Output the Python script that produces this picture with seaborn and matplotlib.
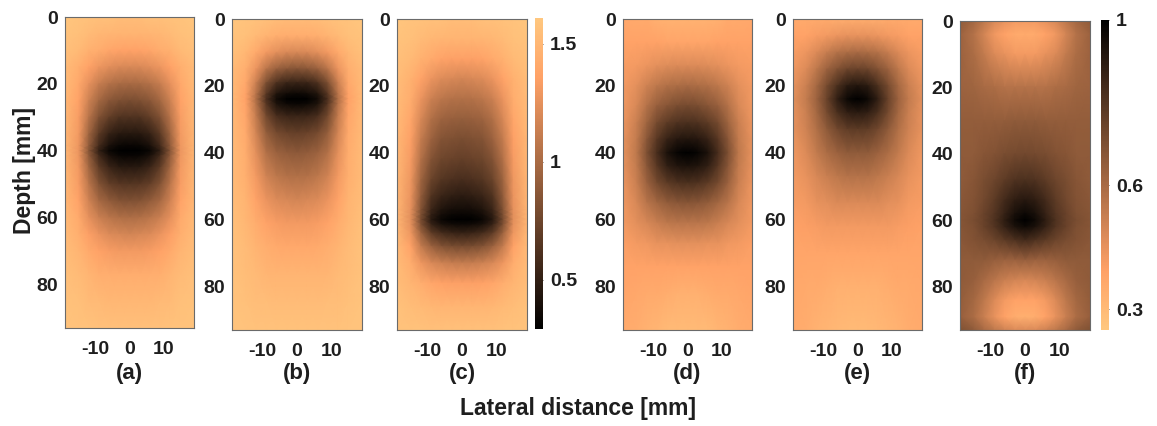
import numpy as np
import matplotlib
matplotlib.use("Agg")
import matplotlib.pyplot as plt
import seaborn as sns

# ---------------- data ----------------
# lateral positions (half-plane, mirrored about 0 mm)
lateral_half = [0, 3, 6, 9, 12, 15, 19]
x_ticks = [-10, 0, 10]
y_ticks = [0, 20, 40, 60, 80]
panel_labels = ["(a)", "(b)", "(c)", "(d)", "(e)", "(f)"]

# panel (a): focus 40 mm, colour scale 0.29 .. 1.61
depth_a = [0, 5, 10, 15, 20, 25, 30, 35, 38.5, 40, 41.5, 45, 50, 55, 60, 65, 70, 77, 85, 93]
vals_a = [
    [1.54, 1.54, 1.56, 1.56, 1.57, 1.58, 1.60],
    [1.48, 1.48, 1.49, 1.50, 1.53, 1.56, 1.58],
    [1.36, 1.37, 1.39, 1.43, 1.46, 1.52, 1.56],
    [1.19, 1.20, 1.23, 1.28, 1.36, 1.45, 1.53],
    [0.99, 1.00, 1.04, 1.12, 1.25, 1.40, 1.52],
    [0.80, 0.82, 0.87, 0.98, 1.15, 1.36, 1.50],
    [0.62, 0.63, 0.70, 0.83, 1.06, 1.33, 1.50],
    [0.44, 0.45, 0.51, 0.67, 0.96, 1.31, 1.49],
    [0.33, 0.34, 0.40, 0.57, 0.90, 1.29, 1.49],
    [0.29, 0.30, 0.34, 0.50, 0.86, 1.28, 1.49],
    [0.33, 0.34, 0.40, 0.57, 0.90, 1.29, 1.49],
    [0.46, 0.47, 0.54, 0.69, 0.98, 1.31, 1.49],
    [0.65, 0.66, 0.71, 0.84, 1.07, 1.33, 1.50],
    [0.83, 0.84, 0.90, 0.99, 1.16, 1.37, 1.50],
    [1.02, 1.03, 1.07, 1.14, 1.25, 1.41, 1.52],
    [1.17, 1.19, 1.21, 1.27, 1.35, 1.45, 1.53],
    [1.31, 1.31, 1.33, 1.36, 1.41, 1.49, 1.54],
    [1.43, 1.43, 1.44, 1.45, 1.49, 1.53, 1.56],
    [1.50, 1.50, 1.50, 1.52, 1.53, 1.56, 1.57],
    [1.56, 1.56, 1.56, 1.56, 1.57, 1.57, 1.58],
]

# panel (b): focus 24 mm
depth_b = [0, 5, 10, 15, 19, 22.5, 24, 25.5, 29, 34, 40, 47, 54, 61, 68, 76, 84, 93]
vals_b = [
    [1.53, 1.53, 1.54, 1.56, 1.57, 1.58, 1.60],
    [1.43, 1.43, 1.45, 1.48, 1.52, 1.56, 1.58],
    [1.19, 1.20, 1.24, 1.31, 1.41, 1.50, 1.56],
    [0.84, 0.86, 0.92, 1.06, 1.27, 1.44, 1.53],
    [0.53, 0.54, 0.62, 0.82, 1.14, 1.40, 1.52],
    [0.34, 0.36, 0.42, 0.66, 1.06, 1.37, 1.52],
    [0.29, 0.30, 0.37, 0.61, 1.03, 1.36, 1.52],
    [0.34, 0.36, 0.42, 0.66, 1.06, 1.37, 1.52],
    [0.53, 0.54, 0.59, 0.77, 1.11, 1.39, 1.52],
    [0.71, 0.73, 0.78, 0.91, 1.17, 1.41, 1.52],
    [0.88, 0.90, 0.94, 1.04, 1.24, 1.43, 1.53],
    [1.03, 1.04, 1.08, 1.16, 1.31, 1.45, 1.53],
    [1.17, 1.19, 1.21, 1.27, 1.37, 1.48, 1.54],
    [1.31, 1.31, 1.33, 1.37, 1.43, 1.50, 1.56],
    [1.40, 1.40, 1.41, 1.44, 1.48, 1.53, 1.57],
    [1.48, 1.48, 1.48, 1.49, 1.52, 1.54, 1.57],
    [1.53, 1.53, 1.53, 1.54, 1.54, 1.56, 1.58],
    [1.57, 1.57, 1.57, 1.57, 1.57, 1.58, 1.58],
]

# panel (c): focus 60 mm
depth_c = [0, 6, 12, 18, 24, 30, 36, 42, 48, 53, 57, 58.5, 60, 61.5, 64, 68, 73, 79, 86, 93]
vals_c = [
    [1.54, 1.54, 1.56, 1.56, 1.57, 1.58, 1.60],
    [1.48, 1.48, 1.49, 1.50, 1.53, 1.56, 1.58],
    [1.35, 1.35, 1.37, 1.41, 1.46, 1.52, 1.56],
    [1.17, 1.19, 1.21, 1.27, 1.37, 1.46, 1.54],
    [1.03, 1.04, 1.07, 1.14, 1.27, 1.43, 1.53],
    [0.91, 0.92, 0.95, 1.03, 1.19, 1.39, 1.52],
    [0.80, 0.82, 0.84, 0.94, 1.11, 1.35, 1.50],
    [0.71, 0.73, 0.75, 0.84, 1.04, 1.32, 1.50],
    [0.59, 0.61, 0.65, 0.74, 0.96, 1.29, 1.49],
    [0.47, 0.49, 0.53, 0.63, 0.90, 1.27, 1.49],
    [0.37, 0.38, 0.42, 0.54, 0.84, 1.25, 1.49],
    [0.33, 0.34, 0.38, 0.50, 0.82, 1.24, 1.49],
    [0.29, 0.30, 0.34, 0.46, 0.79, 1.24, 1.49],
    [0.36, 0.37, 0.41, 0.53, 0.83, 1.25, 1.49],
    [0.51, 0.53, 0.58, 0.69, 0.95, 1.29, 1.50],
    [0.79, 0.80, 0.84, 0.94, 1.11, 1.36, 1.52],
    [1.11, 1.12, 1.15, 1.20, 1.29, 1.43, 1.53],
    [1.35, 1.35, 1.36, 1.39, 1.44, 1.49, 1.54],
    [1.49, 1.49, 1.49, 1.50, 1.52, 1.54, 1.57],
    [1.56, 1.56, 1.56, 1.56, 1.57, 1.57, 1.58],
]

# panel (d): focus 40 mm, colour scale 0.25 .. 1
depth_d = [0, 7, 14, 20, 26, 31, 36, 40, 44, 49, 55, 61, 67, 74, 82, 93]
vals_d = [
    [0.33, 0.33, 0.33, 0.34, 0.36, 0.36, 0.37],
    [0.38, 0.38, 0.38, 0.39, 0.39, 0.39, 0.39],
    [0.48, 0.48, 0.47, 0.46, 0.44, 0.42, 0.41],
    [0.60, 0.59, 0.58, 0.55, 0.51, 0.46, 0.42],
    [0.72, 0.71, 0.68, 0.64, 0.57, 0.49, 0.43],
    [0.82, 0.81, 0.78, 0.72, 0.62, 0.52, 0.44],
    [0.92, 0.91, 0.87, 0.79, 0.67, 0.54, 0.45],
    [1.00, 0.98, 0.93, 0.83, 0.70, 0.55, 0.45],
    [0.93, 0.92, 0.88, 0.79, 0.67, 0.54, 0.45],
    [0.82, 0.81, 0.78, 0.72, 0.63, 0.52, 0.44],
    [0.68, 0.67, 0.65, 0.61, 0.56, 0.49, 0.43],
    [0.56, 0.56, 0.55, 0.52, 0.49, 0.46, 0.42],
    [0.46, 0.46, 0.45, 0.45, 0.43, 0.42, 0.40],
    [0.39, 0.39, 0.39, 0.39, 0.39, 0.39, 0.39],
    [0.34, 0.34, 0.35, 0.36, 0.36, 0.37, 0.38],
    [0.30, 0.30, 0.30, 0.32, 0.33, 0.35, 0.36],
]

# panel (e): focus 24 mm
depth_e = [0, 5, 10, 15, 20, 24, 28, 33, 40, 47, 55, 62, 70, 80, 93]
vals_e = [
    [0.35, 0.35, 0.35, 0.36, 0.36, 0.36, 0.36],
    [0.45, 0.45, 0.44, 0.42, 0.41, 0.39, 0.39],
    [0.60, 0.59, 0.57, 0.53, 0.48, 0.44, 0.41],
    [0.75, 0.74, 0.69, 0.63, 0.55, 0.48, 0.43],
    [0.92, 0.90, 0.82, 0.72, 0.61, 0.52, 0.45],
    [1.00, 0.97, 0.88, 0.75, 0.63, 0.54, 0.46],
    [0.90, 0.88, 0.82, 0.72, 0.61, 0.52, 0.45],
    [0.78, 0.77, 0.73, 0.66, 0.58, 0.51, 0.45],
    [0.66, 0.66, 0.63, 0.59, 0.54, 0.48, 0.43],
    [0.57, 0.57, 0.55, 0.52, 0.49, 0.45, 0.42],
    [0.48, 0.48, 0.48, 0.46, 0.45, 0.42, 0.41],
    [0.42, 0.42, 0.42, 0.42, 0.41, 0.40, 0.39],
    [0.38, 0.38, 0.38, 0.38, 0.38, 0.38, 0.38],
    [0.34, 0.34, 0.34, 0.35, 0.36, 0.36, 0.37],
    [0.30, 0.30, 0.31, 0.32, 0.33, 0.35, 0.36],
]

# panel (f): focus 60 mm
depth_f = [0, 4, 10, 20, 30, 40, 48, 54, 58, 60, 62, 66, 72, 78, 84, 89, 93]
vals_f = [
    [0.42, 0.42, 0.45, 0.49, 0.55, 0.61, 0.66],
    [0.36, 0.36, 0.39, 0.43, 0.50, 0.57, 0.63],
    [0.42, 0.42, 0.45, 0.48, 0.54, 0.59, 0.63],
    [0.57, 0.57, 0.57, 0.59, 0.60, 0.62, 0.63],
    [0.66, 0.66, 0.65, 0.65, 0.65, 0.65, 0.65],
    [0.73, 0.72, 0.71, 0.69, 0.68, 0.66, 0.66],
    [0.82, 0.81, 0.78, 0.74, 0.71, 0.68, 0.66],
    [0.91, 0.89, 0.84, 0.78, 0.73, 0.69, 0.67],
    [0.97, 0.94, 0.87, 0.80, 0.75, 0.70, 0.68],
    [1.00, 0.96, 0.89, 0.81, 0.75, 0.71, 0.68],
    [0.96, 0.93, 0.87, 0.80, 0.75, 0.70, 0.68],
    [0.84, 0.81, 0.78, 0.74, 0.71, 0.69, 0.67],
    [0.64, 0.63, 0.63, 0.64, 0.66, 0.66, 0.66],
    [0.49, 0.50, 0.52, 0.56, 0.60, 0.64, 0.66],
    [0.39, 0.39, 0.42, 0.48, 0.55, 0.61, 0.65],
    [0.34, 0.35, 0.39, 0.45, 0.52, 0.59, 0.64],
    [0.48, 0.48, 0.51, 0.55, 0.60, 0.66, 0.70],
]

cbar1_ticks = [0.5, 1, 1.5]
cbar1_range = (0.29, 1.61)
cbar2_ticks = [0.3, 0.6, 1]
cbar2_range = (0.25, 1.0)

# ---------------- style ----------------
sns.set_style("white")
plt.rcParams["font.family"] = ["Liberation Sans", "DejaVu Sans"]
plt.rcParams["font.weight"] = "bold"
plt.rcParams["axes.labelweight"] = "bold"
plt.rcParams["axes.unicode_minus"] = False

copper = sns.color_palette("copper", as_cmap=True)
copper_r = copper.reversed()

W, H = 1157, 426
fig = plt.figure(figsize=(W / 100, H / 100), dpi=100)
TXT = "#1e1e1e"


def px_axes(x0, y0, x1, y1):
    return fig.add_axes([x0 / W, 1 - y1 / H, (x1 - x0) / W, (y1 - y0) / H])


panels = [
    (depth_a, vals_a, (65, 17, 194, 328), copper, cbar1_range),
    (depth_b, vals_b, (232, 19, 362, 330), copper, cbar1_range),
    (depth_c, vals_c, (397, 19, 527, 330), copper, cbar1_range),
    (depth_d, vals_d, (623, 19, 752, 330), copper_r, cbar2_range),
    (depth_e, vals_e, (793, 19, 922, 330), copper_r, cbar2_range),
    (depth_f, vals_f, (960, 21, 1090, 330), copper_r, cbar2_range),
]

lat_full = np.array([-v for v in lateral_half[:0:-1]] + lateral_half, dtype=float)
meshes = []
for i, (depth, vals, box, cmap, rng) in enumerate(panels):
    ax = px_axes(*box)
    v = np.asarray(vals, dtype=float)
    full = np.hstack([v[:, :0:-1], v])
    m = ax.pcolormesh(lat_full, np.asarray(depth, float), full, shading="gouraud",
                      cmap=cmap, vmin=rng[0], vmax=rng[1], rasterized=True)
    meshes.append(m)
    ax.set_xlim(-19, 19)
    ax.set_ylim(93, 0)
    ax.set_xticks(x_ticks)
    ax.set_yticks(y_ticks)
    ax.tick_params(direction="in", length=3, width=0.7, color="#555555",
                   top=True, right=True, labelsize=14, pad=5)
    ax.tick_params(axis="x", pad=9)
    for lab in ax.get_xticklabels() + ax.get_yticklabels():
        lab.set_fontweight("bold")
        lab.set_color(TXT)
    for s in ax.spines.values():
        s.set_color("#6a6a6a")
        s.set_linewidth(0.8)
    cx = (box[0] + box[2]) / 2 / W
    fig.text(cx, 1 - 373 / H, panel_labels[i], ha="center", va="center",
             fontsize=16, fontweight="bold", color=TXT)

# colorbars
for m, box, ticks in [(meshes[0], (535, 18, 543, 329), cbar1_ticks),
                      (meshes[3], (1101, 20, 1109, 330), cbar2_ticks)]:
    cax = px_axes(*box)
    cb = fig.colorbar(m, cax=cax)
    cb.outline.set_visible(False)
    cb.set_ticks(ticks)
    cb.set_ticklabels([f"{t:g}" for t in ticks])
    cax.tick_params(direction="in", length=3, width=0.7, color="#555555",
                    labelsize=14, pad=5)
    for lab in cax.get_yticklabels():
        lab.set_fontweight("bold")
        lab.set_color(TXT)

fig.text(24 / W, 1 - 170 / H, "Depth [mm]", rotation=90, ha="center", va="center",
         fontsize=16.5, fontweight="bold", color=TXT)
fig.text(578 / W, 1 - 409 / H, "Lateral distance [mm]", ha="center", va="center",
         fontsize=16.5, fontweight="bold", color=TXT)

fig.savefig("out.png", dpi=100, facecolor="white")
